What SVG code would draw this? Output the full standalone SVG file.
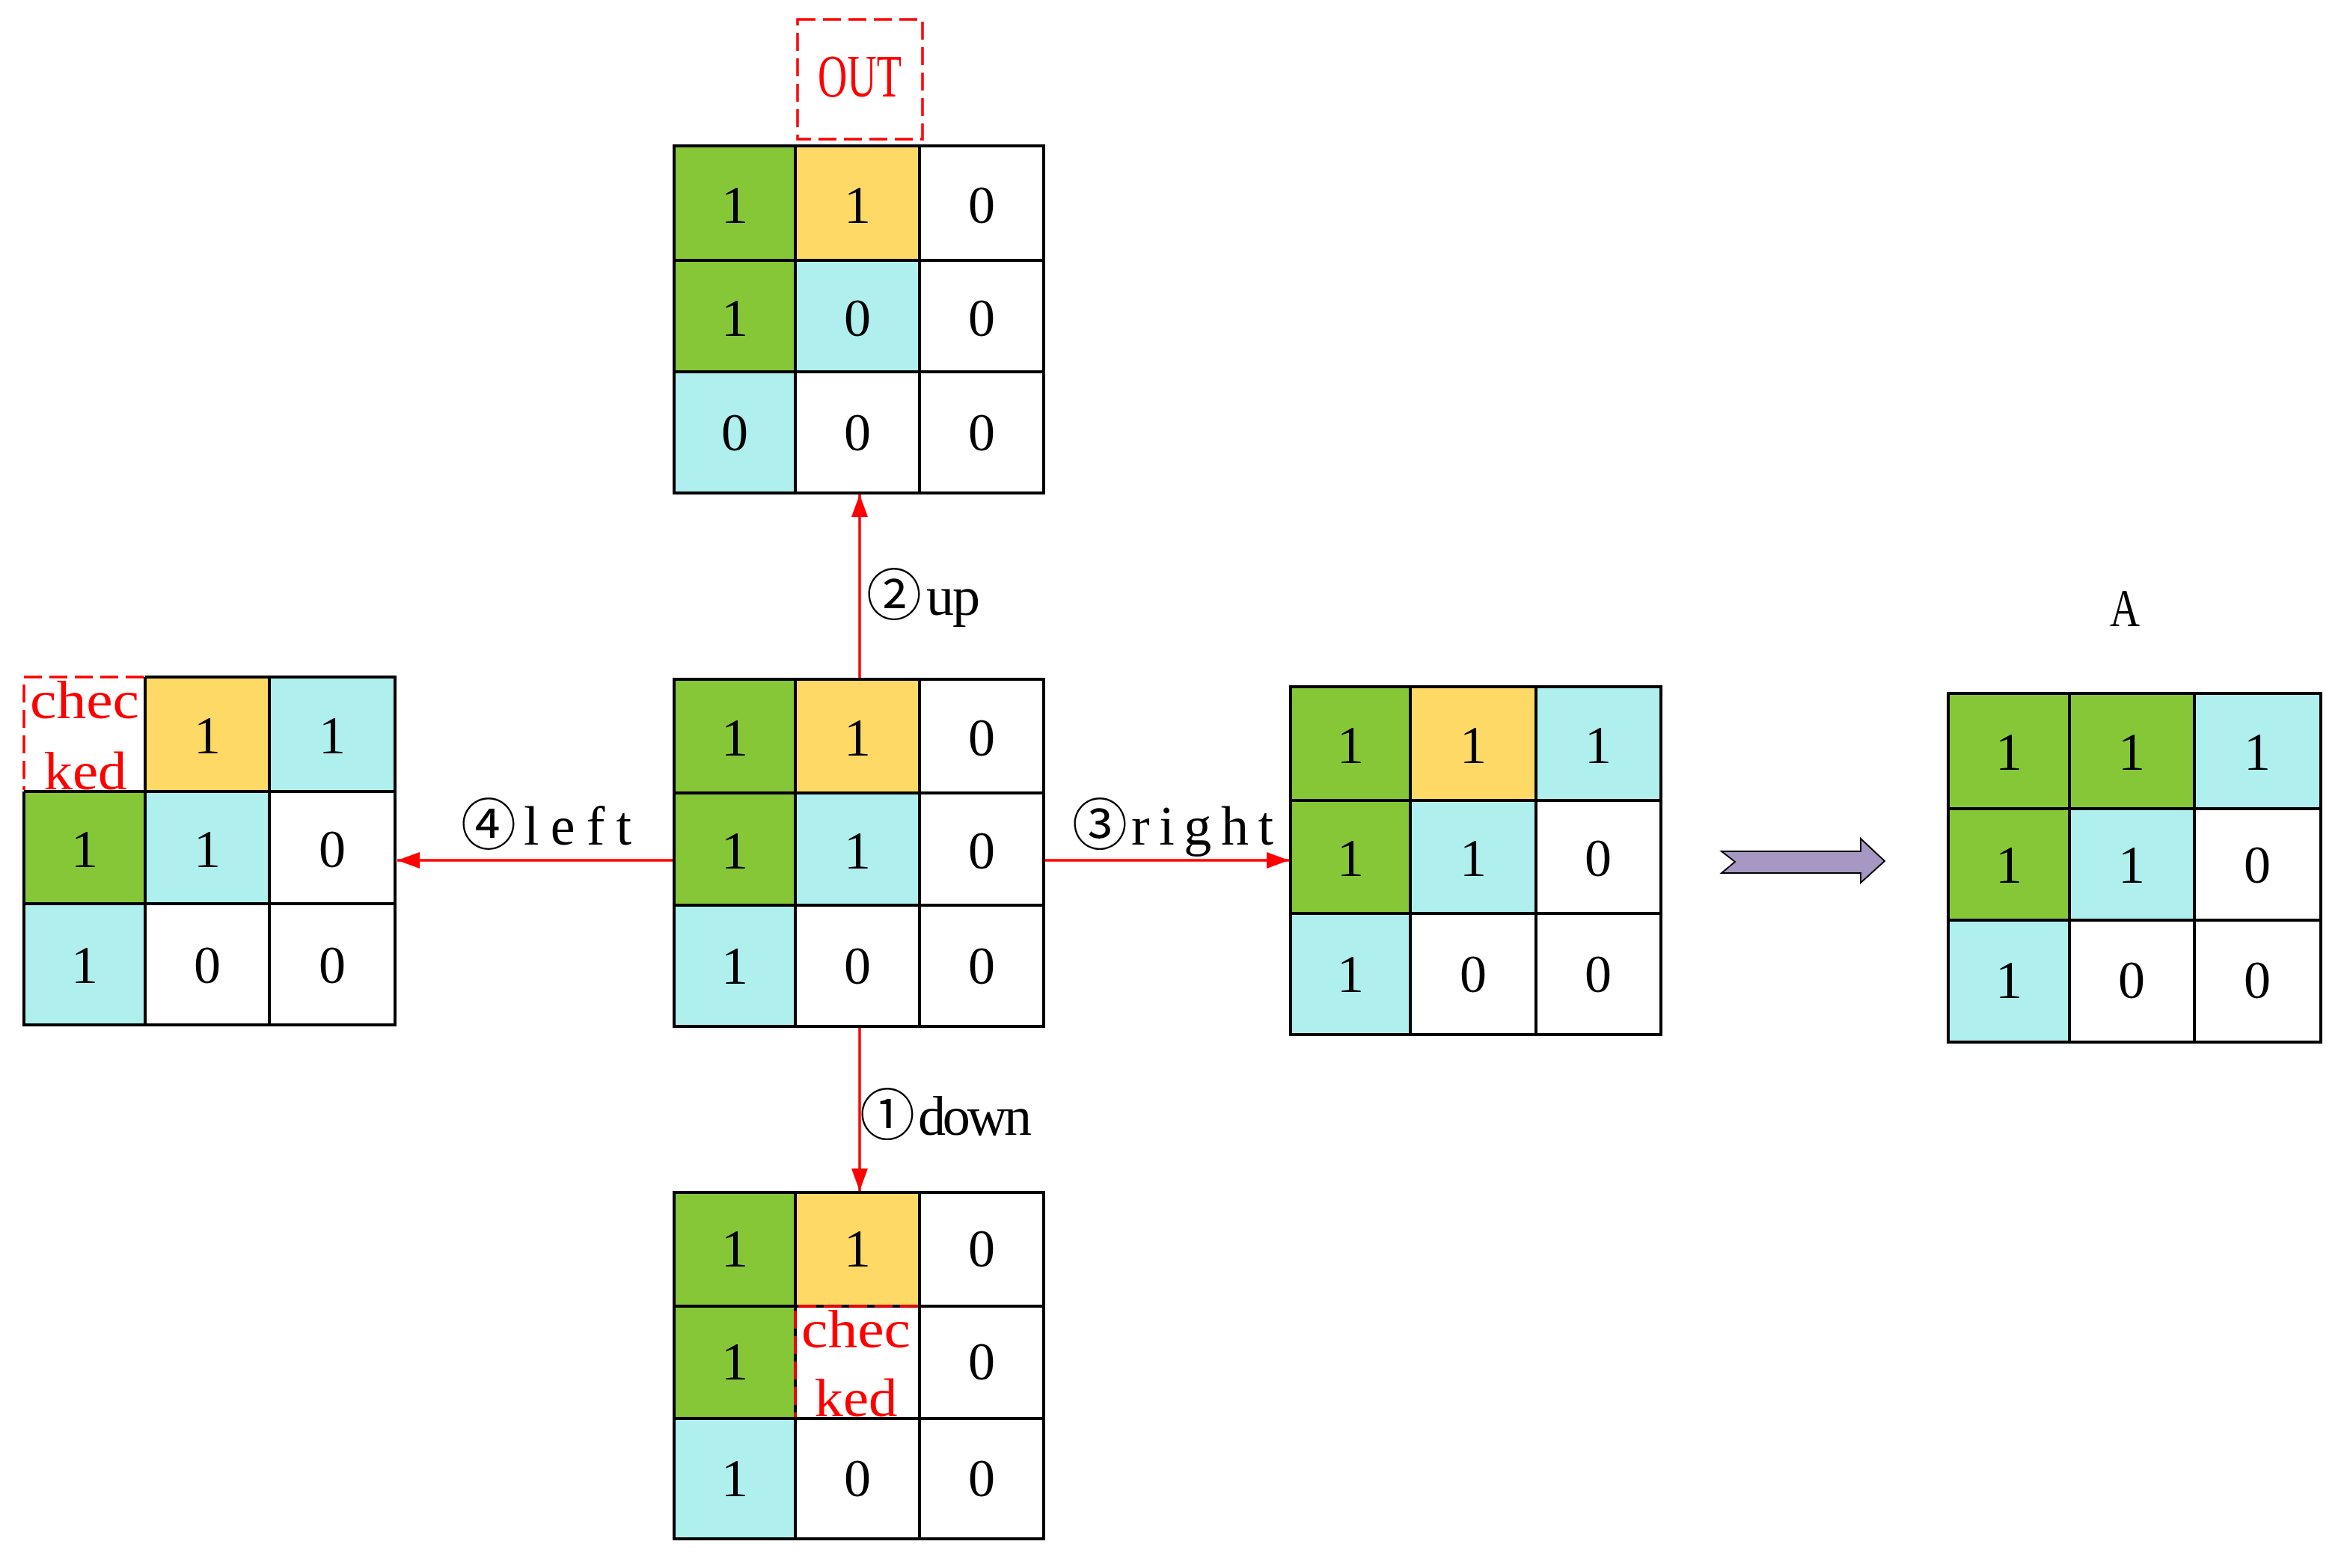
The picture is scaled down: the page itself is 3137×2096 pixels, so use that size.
<svg xmlns="http://www.w3.org/2000/svg" width="3137" height="2096" viewBox="0 0 3137 2096">
<defs>
<style>
.g{fill:#86C738}.y{fill:#FFD966}.b{fill:#AFEFEE}.w{fill:#FFFFFF}
.ln{stroke:#000;stroke-width:4;fill:none}
.d{font-family:"Liberation Serif","Noto Sans CJK SC",serif;font-size:72px;fill:#000;text-anchor:middle}
.lab{font-family:"Liberation Serif","Noto Sans CJK SC",serif;font-size:74px;fill:#000}
.rt{font-family:"Liberation Serif","Noto Sans CJK SC",serif;font-size:72px;fill:#FF0000;text-anchor:middle}
.dash{stroke:#FF0000;stroke-width:3.5;stroke-dasharray:24 10;fill:none}
.conn{stroke:#FF0000;stroke-width:3.5;fill:none}
</style>
<marker id="ah" markerUnits="userSpaceOnUse" markerWidth="32" markerHeight="24" refX="30" refY="11" orient="auto">
<path d="M0,0 L30,11 L0,22 z" fill="#FF0000"/>
</marker>
</defs>
<rect x="0" y="0" width="3137" height="2096" fill="#FFFFFF"/>

<g id="connectors">
<line class="conn" x1="1149" y1="908" x2="1149" y2="661" marker-end="url(#ah)"/>
<line class="conn" x1="1149" y1="1372" x2="1149" y2="1592" marker-end="url(#ah)"/>
<line class="conn" x1="1395" y1="1150" x2="1723" y2="1150" marker-end="url(#ah)"/>
<line class="conn" x1="901" y1="1150" x2="531" y2="1150" marker-end="url(#ah)"/>
<text class="lab" x="1158" y="822">②<tspan x="1238" textLength="72" lengthAdjust="spacing">up</tspan></text>
<text class="lab" x="1149" y="1517">①<tspan x="1227" textLength="152" lengthAdjust="spacing">down</tspan></text>
<text class="lab" x="1433" y="1129">③<tspan x="1512" textLength="190" lengthAdjust="spacing">right</tspan></text>
<text class="lab" x="616" y="1129">④<tspan x="700" textLength="144" lengthAdjust="spacing">left</tspan></text>
</g>

<g id="out-label">
<rect class="dash" x="1066" y="26" width="167" height="160"/>
<text class="rt" x="1149" y="129" style="font-size:80px" textLength="112" lengthAdjust="spacingAndGlyphs">OUT</text>
</g>

<g id="grid-up">
<rect class="g" x="901" y="195" width="162" height="153"/>
<rect class="y" x="1063" y="195" width="166" height="153"/>
<rect class="w" x="1229" y="195" width="166" height="153"/>
<rect class="g" x="901" y="348" width="162" height="149"/>
<rect class="b" x="1063" y="348" width="166" height="149"/>
<rect class="w" x="1229" y="348" width="166" height="149"/>
<rect class="b" x="901" y="497" width="162" height="162"/>
<rect class="w" x="1063" y="497" width="166" height="162"/>
<rect class="w" x="1229" y="497" width="166" height="162"/>
<path class="ln" d="M901,195 H1395 V659 H901 Z M901,348 H1395 M901,497 H1395 M1063,195 V659 M1229,195 V659"/>
<text class="d" x="982" y="298">1</text><text class="d" x="1146" y="298">1</text><text class="d" x="1312" y="298">0</text>
<text class="d" x="982" y="449">1</text><text class="d" x="1146" y="449">0</text><text class="d" x="1312" y="449">0</text>
<text class="d" x="982" y="602">0</text><text class="d" x="1146" y="602">0</text><text class="d" x="1312" y="602">0</text>
</g>

<g id="grid-center">
<rect class="g" x="901" y="908" width="162" height="152"/>
<rect class="y" x="1063" y="908" width="166" height="152"/>
<rect class="w" x="1229" y="908" width="166" height="152"/>
<rect class="g" x="901" y="1060" width="162" height="150"/>
<rect class="b" x="1063" y="1060" width="166" height="150"/>
<rect class="w" x="1229" y="1060" width="166" height="150"/>
<rect class="b" x="901" y="1210" width="162" height="162"/>
<rect class="w" x="1063" y="1210" width="166" height="162"/>
<rect class="w" x="1229" y="1210" width="166" height="162"/>
<path class="ln" d="M901,908 H1395 V1372 H901 Z M901,1060 H1395 M901,1210 H1395 M1063,908 V1372 M1229,908 V1372"/>
<text class="d" x="982" y="1010">1</text><text class="d" x="1146" y="1010">1</text><text class="d" x="1312" y="1010">0</text>
<text class="d" x="982" y="1161">1</text><text class="d" x="1146" y="1161">1</text><text class="d" x="1312" y="1161">0</text>
<text class="d" x="982" y="1315">1</text><text class="d" x="1146" y="1315">0</text><text class="d" x="1312" y="1315">0</text>
</g>

<g id="grid-left">
<rect class="y" x="194" y="905" width="166" height="153"/>
<rect class="b" x="360" y="905" width="168" height="153"/>
<rect class="g" x="32" y="1058" width="162" height="150"/>
<rect class="b" x="194" y="1058" width="166" height="150"/>
<rect class="w" x="360" y="1058" width="168" height="150"/>
<rect class="b" x="32" y="1208" width="162" height="162"/>
<rect class="w" x="194" y="1208" width="166" height="162"/>
<rect class="w" x="360" y="1208" width="168" height="162"/>
<path class="ln" d="M194,905 H528 V1370 H32 V1058 M32,1058 H528 M32,1208 H528 M194,905 V1370 M360,905 V1370"/>
<path class="dash" d="M192,905 H32 V1056"/>
<text class="rt" x="113" y="960" textLength="146" lengthAdjust="spacingAndGlyphs">chec</text>
<text class="rt" x="114" y="1055" textLength="111" lengthAdjust="spacingAndGlyphs">ked</text>
<text class="d" x="277" y="1007">1</text><text class="d" x="444" y="1007">1</text>
<text class="d" x="113" y="1159">1</text><text class="d" x="277" y="1159">1</text><text class="d" x="444" y="1159">0</text>
<text class="d" x="113" y="1314">1</text><text class="d" x="277" y="1314">0</text><text class="d" x="444" y="1314">0</text>
</g>

<g id="grid-right">
<rect class="g" x="1725" y="918" width="160" height="152"/>
<rect class="y" x="1885" y="918" width="168" height="152"/>
<rect class="b" x="2053" y="918" width="167" height="152"/>
<rect class="g" x="1725" y="1070" width="160" height="151"/>
<rect class="b" x="1885" y="1070" width="168" height="151"/>
<rect class="w" x="2053" y="1070" width="167" height="151"/>
<rect class="b" x="1725" y="1221" width="160" height="162"/>
<rect class="w" x="1885" y="1221" width="168" height="162"/>
<rect class="w" x="2053" y="1221" width="167" height="162"/>
<path class="ln" d="M1725,918 H2220 V1383 H1725 Z M1725,1070 H2220 M1725,1221 H2220 M1885,918 V1383 M2053,918 V1383"/>
<text class="d" x="1805" y="1020">1</text><text class="d" x="1969" y="1020">1</text><text class="d" x="2136" y="1020">1</text>
<text class="d" x="1805" y="1171">1</text><text class="d" x="1969" y="1171">1</text><text class="d" x="2136" y="1171">0</text>
<text class="d" x="1805" y="1326">1</text><text class="d" x="1969" y="1326">0</text><text class="d" x="2136" y="1326">0</text>
</g>

<g id="grid-down">
<rect class="g" x="901" y="1594" width="162" height="152"/>
<rect class="y" x="1063" y="1594" width="166" height="152"/>
<rect class="w" x="1229" y="1594" width="166" height="152"/>
<rect class="g" x="901" y="1746" width="162" height="150"/>
<rect class="w" x="1063" y="1746" width="166" height="150"/>
<rect class="w" x="1229" y="1746" width="166" height="150"/>
<rect class="b" x="901" y="1896" width="162" height="161"/>
<rect class="w" x="1063" y="1896" width="166" height="161"/>
<rect class="w" x="1229" y="1896" width="166" height="161"/>
<path class="ln" d="M901,1594 H1395 V2057 H901 Z M901,1746 H1395 M901,1896 H1395 M1063,1594 V2057 M1229,1594 V2057"/>
<path class="dash" d="M1227,1746 H1063 V1894"/>
<text class="rt" x="1144" y="1801" textLength="146" lengthAdjust="spacingAndGlyphs">chec</text>
<text class="rt" x="1144" y="1893" textLength="111" lengthAdjust="spacingAndGlyphs">ked</text>
<text class="d" x="982" y="1693">1</text><text class="d" x="1146" y="1693">1</text><text class="d" x="1312" y="1693">0</text>
<text class="d" x="982" y="1844">1</text><text class="d" x="1312" y="1844">0</text>
<text class="d" x="982" y="2000">1</text><text class="d" x="1146" y="2000">0</text><text class="d" x="1312" y="2000">0</text>
</g>

<g id="result-arrow">
<polygon points="2301,1138 2487,1138 2487,1121 2519,1151 2487,1180 2487,1167 2301,1167 2319,1152" fill="#A797C3" stroke="#000" stroke-width="2"/>
</g>

<g id="grid-A">
<text class="d" x="2840" y="837" textLength="40" lengthAdjust="spacingAndGlyphs">A</text>
<rect class="g" x="2604" y="927" width="162" height="154"/>
<rect class="g" x="2766" y="927" width="167" height="154"/>
<rect class="b" x="2933" y="927" width="169" height="154"/>
<rect class="g" x="2604" y="1081" width="162" height="149"/>
<rect class="b" x="2766" y="1081" width="167" height="149"/>
<rect class="w" x="2933" y="1081" width="169" height="149"/>
<rect class="b" x="2604" y="1230" width="162" height="163"/>
<rect class="w" x="2766" y="1230" width="167" height="163"/>
<rect class="w" x="2933" y="1230" width="169" height="163"/>
<path class="ln" d="M2604,927 H3102 V1393 H2604 Z M2604,1081 H3102 M2604,1230 H3102 M2766,927 V1393 M2933,927 V1393"/>
<text class="d" x="2685" y="1029">1</text><text class="d" x="2849" y="1029">1</text><text class="d" x="3017" y="1029">1</text>
<text class="d" x="2685" y="1180">1</text><text class="d" x="2849" y="1180">1</text><text class="d" x="3017" y="1180">0</text>
<text class="d" x="2685" y="1334">1</text><text class="d" x="2849" y="1334">0</text><text class="d" x="3017" y="1334">0</text>
</g>
</svg>
